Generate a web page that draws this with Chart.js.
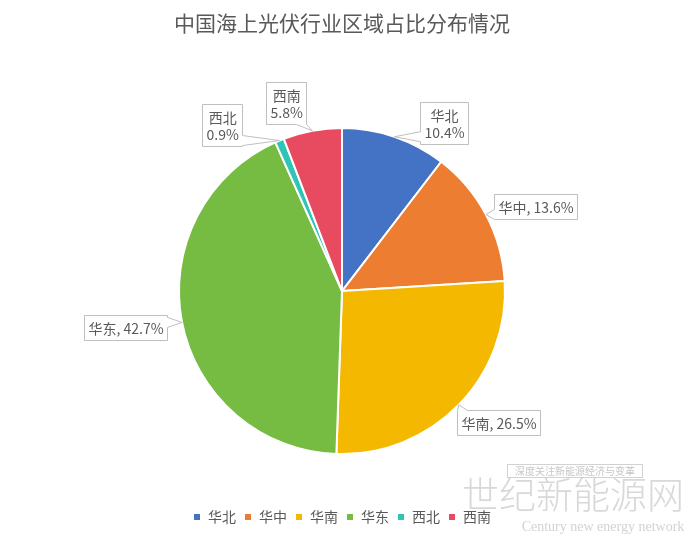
<!DOCTYPE html>
<html>
<head>
<meta charset="utf-8">
<script src="https://cdn.jsdelivr.net/npm/chart.js@4.4.1/dist/chart.umd.min.js"></script>
<style>
  html, body { margin: 0; padding: 0; background: #fff; }
  #wrap { width: 692px; height: 540px; }
</style>
</head>
<body>
<div id="wrap"><canvas id="grafico"></canvas></div>
<script>
const regiones = ["华北", "华中", "华南", "华东", "西北", "西南"];
const porcentajes = [10.4, 13.6, 26.5, 42.7, 0.9, 5.8];
const colores = ["#4472C4", "#ED7D31", "#F4B800", "#76BC42", "#2EC4B6", "#E84A5F"];

// where each label box sits, relative to its point on the pie edge
const desplazamientos = [[50, -14], [50, -8], [40, 18], [-56, 5], [-57, -16], [-26, -28]];
const dosLineas = [true, false, false, false, true, true];

const FUENTE = "'Noto Sans CJK SC', 'Microsoft YaHei', sans-serif";
const GRIS = "#595959";

document.addEventListener("DOMContentLoaded", () => {
  Chart.defaults.font.family = FUENTE;
  generarPastel("grafico");
});

function generarPastel(id) {
  const ctx = document.getElementById(id);
  new Chart(ctx, {
    type: "pie",
    data: {
      labels: regiones,
      datasets: [{
        data: porcentajes,
        backgroundColor: colores,
        borderColor: "#fff",
        borderWidth: 2,
        radius: 163
      }]
    },
    options: {
      responsive: true,
      maintainAspectRatio: false,
      animation: false,
      layout: { padding: { left: 0, right: 8, top: 0, bottom: 6 } },
      plugins: {
        title: {
          display: true,
          text: "中国海上光伏行业区域占比分布情况",
          color: GRIS,
          font: { size: 21, weight: "normal" },
          padding: { top: 10, bottom: 45 }
        },
        legend: {
          position: "bottom",
          labels: { color: GRIS, font: { size: 14 }, boxWidth: 8, boxHeight: 8, padding: 8 }
        },
        tooltip: { enabled: false }
      }
    },
    plugins: [etiquetasPlugin, marcaAguaPlugin]
  });
}

const etiquetasPlugin = {
  id: "etiquetas",
  afterDatasetsDraw(chart) {
    const ctx = chart.ctx;
    const arcs = chart.getDatasetMeta(0).data;
    ctx.save();
    ctx.font = "14px " + FUENTE;
    arcs.forEach((arc, i) => {
      const p = arc.getProps(["x", "y", "startAngle", "endAngle", "outerRadius"], true);
      const mid = (p.startAngle + p.endAngle) / 2;
      const ax = p.x + Math.cos(mid) * p.outerRadius;
      const ay = p.y + Math.sin(mid) * p.outerRadius;
      const lineas = dosLineas[i]
        ? [regiones[i], porcentajes[i] + "%"]
        : [regiones[i] + ", " + porcentajes[i] + "%"];
      const w = Math.max(...lineas.map(t => ctx.measureText(t).width)) + 8;
      const h = lineas.length * 17 + 8;
      const cx = ax + desplazamientos[i][0];
      const cy = ay + desplazamientos[i][1];
      const x0 = Math.round(cx - w / 2) + 0.5;
      const y0 = Math.round(cy - h / 2) + 0.5;
      dibujarCaja(ctx, x0, y0, x0 + Math.round(w), y0 + h, ax, ay);
      ctx.fillStyle = GRIS;
      ctx.textAlign = "center";
      ctx.textBaseline = "middle";
      lineas.forEach((t, k) => ctx.fillText(t, x0 + w / 2, y0 + 4 + 17 * k + 9));
    });
    ctx.restore();
  }
};

function dibujarCaja(ctx, x0, y0, x1, y1, ax, ay) {
  const ox = ax < x0 ? x0 - ax : (ax > x1 ? ax - x1 : 0);
  const oy = ay < y0 ? y0 - ay : (ay > y1 ? ay - y1 : 0);
  const lim = (v, a, b) => Math.min(Math.max(v, a), b);
  const punta = [ax, ay];
  let pts;
  if (ox >= oy) {
    const c = lim(ay, y0 + 5, y1 - 5);
    if (ax > x1) pts = [[x0, y0], [x1, y0], [x1, c - 5], punta, [x1, c + 5], [x1, y1], [x0, y1]];
    else pts = [[x0, y0], [x1, y0], [x1, y1], [x0, y1], [x0, c + 5], punta, [x0, c - 5]];
  } else {
    const c = lim(ax, x0 + 5, x1 - 5);
    if (ay < y0) pts = [[x0, y0], [c - 5, y0], punta, [c + 5, y0], [x1, y0], [x1, y1], [x0, y1]];
    else pts = [[x0, y0], [x1, y0], [x1, y1], [c + 5, y1], punta, [c - 5, y1], [x0, y1]];
  }
  ctx.beginPath();
  pts.forEach(([x, y], k) => k ? ctx.lineTo(x, y) : ctx.moveTo(x, y));
  ctx.closePath();
  ctx.fillStyle = "#fff";
  ctx.fill();
  ctx.strokeStyle = "#bfbfbf";
  ctx.lineWidth = 1;
  ctx.stroke();
}

const marcaAguaPlugin = {
  id: "marcaAgua",
  afterDraw(chart) {
    const ctx = chart.ctx;
    ctx.save();
    ctx.textAlign = "center";
    ctx.textBaseline = "middle";
    ctx.strokeStyle = "rgba(180,180,180,0.6)";
    ctx.lineWidth = 1;
    ctx.strokeRect(507.5, 464.5, 135, 13);
    ctx.fillStyle = "rgba(160,160,160,0.6)";
    ctx.font = "10px " + FUENTE;
    ctx.fillText("深度关注新能源经济与变革", 575, 471);
    ctx.fillStyle = "rgba(190,190,190,0.6)";
    ctx.font = "300 37px " + FUENTE;
    ctx.fillText("世纪新能源网", 573, 495);
    ctx.fillStyle = "rgba(180,180,180,0.6)";
    ctx.font = "14px 'Liberation Serif', serif";
    ctx.fillText("Century new energy network", 603, 527);
    ctx.restore();
  }
};
</script>
</body>
</html>
